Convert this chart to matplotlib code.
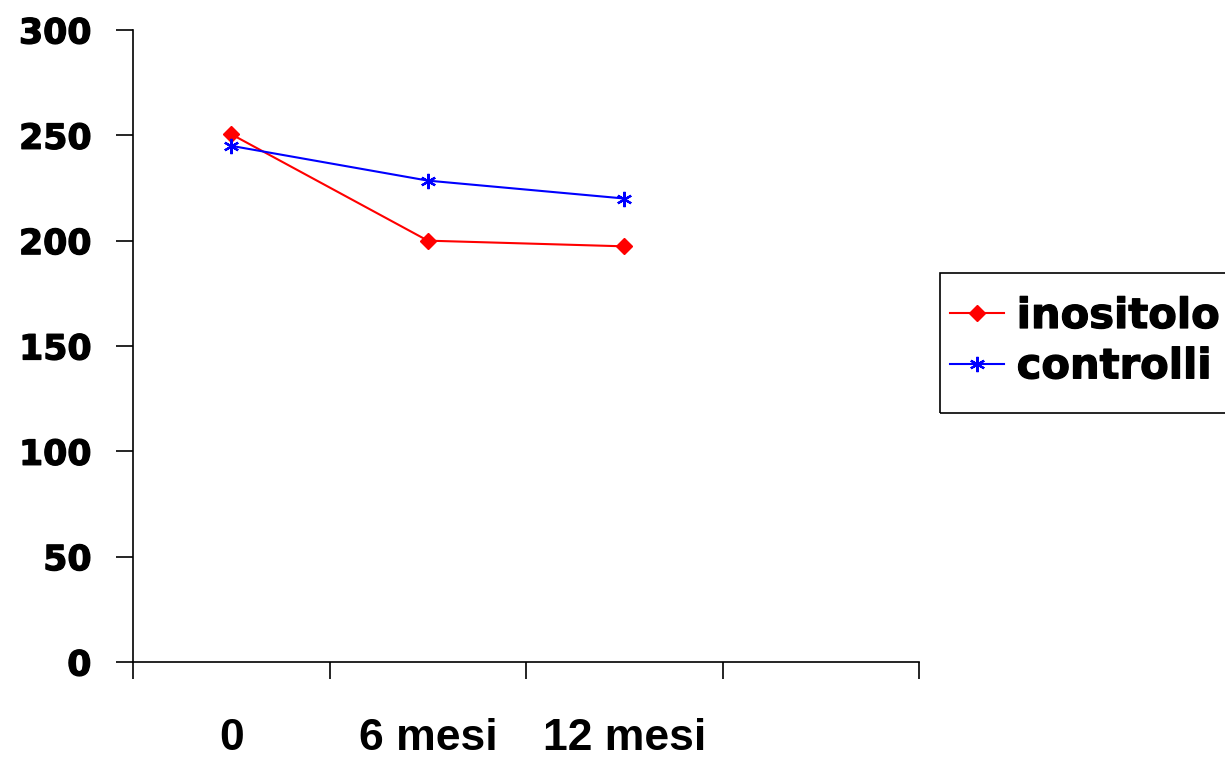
import matplotlib.pyplot as plt
import matplotlib.patheffects as pe
from matplotlib.patches import Rectangle
from matplotlib.ticker import FixedLocator

# data
categories = ['0', '6 mesi', '12 mesi']
inositolo = [250.5, 200.0, 197.3]
controlli = [245.0, 228.5, 220.0]
y_ticks = [0, 50, 100, 150, 200, 250, 300]

plt.rcParams['font.family'] = ['Liberation Sans', 'DejaVu Sans']
plt.rcParams['font.weight'] = 'bold'

W, H = 1225, 759
fig = plt.figure(figsize=(W / 100, H / 100), dpi=100)
ax = fig.add_axes([0.1086, 0.1278, 0.6417, 0.8327])

heavy = [pe.withStroke(linewidth=0.9, foreground='black')]

x = list(range(len(categories)))
ax.plot(x, inositolo, color='#ff0000', lw=1.5, marker='D', ms=8.5,
        label='inositolo')
ax.plot(x, controlli, color='#0000ff', lw=1.5, marker=(6, 2, 0), ms=11,
        mew=1.6, label='controlli')

# 4 category slots, the last one empty
ax.set_xlim(-0.5, 3.5)
ax.set_ylim(0, 300)
ax.set_yticks(y_ticks)
ax.set_yticklabels([str(v) for v in y_ticks], fontsize=25, fontweight='bold',
                   family='DejaVu Sans')
for t in ax.get_yticklabels():
    t.set_path_effects(heavy)
ax.set_xticks(x)
ax.set_xticklabels(categories, fontsize=32, fontweight='bold',
                   family='Liberation Sans')
ax.tick_params(axis='x', which='major', length=0, pad=40)
ax.xaxis.set_minor_locator(FixedLocator([-0.5, 0.5, 1.5, 2.5, 3.5]))
ax.tick_params(axis='x', which='minor', length=12, width=1.2, direction='out')
ax.tick_params(axis='y', length=12, width=1.2, direction='out', pad=18)

for side in ['top', 'right']:
    ax.spines[side].set_visible(False)
for side in ['left', 'bottom']:
    ax.spines[side].set_linewidth(1.2)

# legend entries without frame, frame drawn separately
leg = fig.legend(loc='upper left', bbox_to_anchor=(950 / W, 1 - 295 / H),
                 prop={'weight': 'bold', 'size': 30, 'family': 'DejaVu Sans'},
                 frameon=False, handlelength=1.3, handletextpad=0.3,
                 borderpad=0, borderaxespad=0, labelspacing=0.2)
for t in leg.get_texts():
    t.set_path_effects(heavy)

fig.patches.append(Rectangle((940 / W, 1 - 413 / H), 300 / W, 140 / H,
                             transform=fig.transFigure, fill=False,
                             edgecolor='black', lw=1.2))

fig.savefig('out.png', dpi=100)
